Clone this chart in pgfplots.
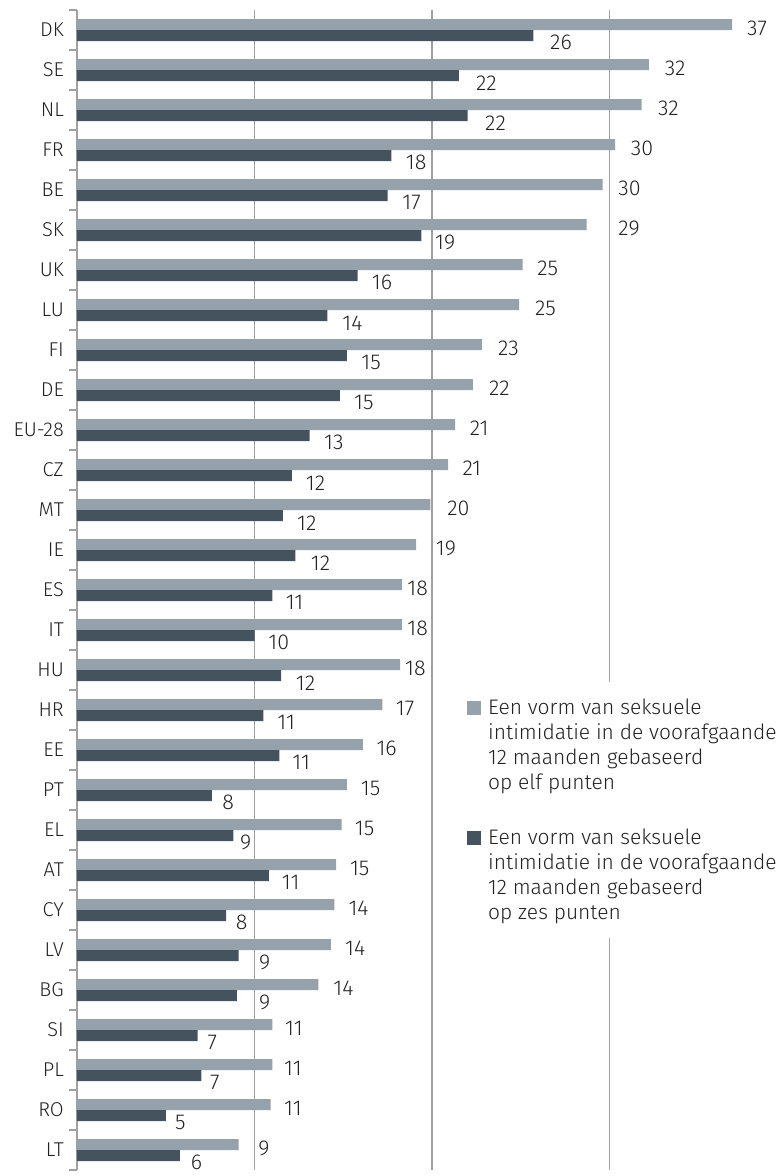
\documentclass[border=0pt]{standalone}
\usepackage{pgfplots}
\pgfplotsset{compat=1.18}
\usepackage{pgfplotstable}
\usepackage{fontspec}
\setmainfont{Fira Sans Light}

\definecolor{lightbar}{HTML}{96A2AB}
\definecolor{darkbar}{HTML}{44535E}
\definecolor{gridc}{HTML}{A0A0A0}
\definecolor{textc}{HTML}{222222}

\newcommand\tickfont{\fontsize{20}{24}\selectfont}
\newcommand\valfont{\fontsize{21.5}{24}\selectfont}

% l = elf punten, d = zes punten; ll/dl = printed labels; lx/dx = label positions
\pgfplotstableread{
idx l d ll dl lx dx
0 36.9 25.7 37 26 37.73 26.64
1 32.2 21.5 32 22 33.10 22.47
2 31.8 22.0 32 22 32.72 22.98
3 30.3 17.7 30 18 31.18 18.51
4 29.6 17.5 30 17 30.48 18.32
5 28.7 19.4 29 19 30.48 20.16
6 25.1 15.8 25 16 25.91 16.60
7 24.9 14.1 25 14 25.79 14.94
8 22.8 15.2 23 15 23.71 16.01
9 22.3 14.8 22 15 23.20 15.60
10 21.3 13.1 21 13 22.12 13.91
11 20.9 12.1 21 12 21.70 12.88
12 19.9 11.6 20 12 20.85 12.39
13 19.1 12.3 19 12 20.20 13.16
14 18.3 11.0 18 11 18.60 11.75
15 18.3 10.0 18 10 18.60 10.77
16 18.2 11.5 18 12 18.47 12.32
17 17.2 10.5 17 11 17.95 11.28
18 16.1 11.4 16 11 16.86 12.12
19 15.2 7.6 15 8 15.98 8.18
20 14.9 8.8 15 9 15.64 9.18
21 14.6 10.8 15 11 15.37 11.53
22 14.5 8.4 14 8 15.28 8.94
23 14.3 9.1 14 9 15.09 10.25
24 13.6 9.0 14 9 14.43 10.25
25 11.0 6.8 11 7 11.71 7.34
26 11.0 7.0 11 7 11.66 7.49
27 10.9 5.0 11 5 11.66 5.52
28 9.1 5.8 9 6 10.21 6.40
}\data

\begin{document}
\begin{tikzpicture}
\begin{axis}[
    at={(0,0)}, anchor=south west,
    scale only axis, width=692.5pt, height=1160pt,
    xmin=0, xmax=39, ymin=-0.5, ymax=28.5, y dir=reverse,
    axis y line*=left, axis x line*=bottom,
    x axis line style={draw=none},
    y axis line style={draw=gridc, line width=1.5pt},
    xtick={10,20,30}, xticklabels={,,},
    xmajorgrids, major grid style={draw=gridc, line width=1.5pt},
    ytick={0,...,28},
    yticklabels={DK,SE,NL,FR,BE,SK,UK,LU,FI,DE,EU-28,CZ,MT,IE,ES,IT,HU,HR,EE,PT,EL,AT,CY,LV,BG,SI,PL,RO,LT},
    minor ytick={-0.5,0.5,...,28.5},
    major tick length=0pt, minor tick length=8pt, tick align=outside,
    minor tick style={draw=gridc, line width=1.5pt},
    yticklabel style={font=\tickfont, text=textc, inner sep=0pt, xshift=-13pt},
    clip=false,
    legend style={
        at={(axis cs:21.57,16.3)}, anchor=north west,
        draw=none, fill=white, inner xsep=7pt, inner ysep=17pt,
        font=\fontsize{21}{25}\selectfont, text=textc,
        row sep=38pt, column sep=7pt,
        cells={anchor=base west},
        nodes={inner sep=0pt, align=left},
    },
]
\addplot[xbar, bar width=11pt, bar shift=5.5pt, fill=lightbar, draw=none,
    legend image code/.code={\fill[lightbar] (0pt,75pt) rectangle (14pt,89pt);}]
    table[x=l, y=idx] {\data};
\addlegendentry{Een vorm van seksuele\\intimidatie in de voorafgaande\\12 maanden gebaseerd\\op elf punten}
\addplot[xbar, bar width=11pt, bar shift=-5.5pt, fill=darkbar, draw=none,
    legend image code/.code={\fill[darkbar] (0pt,75pt) rectangle (14pt,89pt);}]
    table[x=d, y=idx] {\data};
\addlegendentry{Een vorm van seksuele\\intimidatie in de voorafgaande\\12 maanden gebaseerd\\op zes punten}

\addplot[forget plot, draw=none, mark=none, nodes near coords, point meta=explicit symbolic,
    nodes near coords style={anchor=west, inner sep=0pt, font=\valfont, text=textc, yshift=1.5pt}]
    table[x=lx, y=idx, meta=ll] {\data};
\addplot[forget plot, draw=none, mark=none, nodes near coords, point meta=explicit symbolic,
    nodes near coords style={anchor=west, inner sep=0pt, font=\valfont, text=textc, yshift=-12.8pt}]
    table[x=dx, y=idx, meta=dl] {\data};
\end{axis}
\pgfresetboundingbox
\path[use as bounding box] (-77pt,-6pt) rectangle (705pt,1170pt);
\end{tikzpicture}
\end{document}
